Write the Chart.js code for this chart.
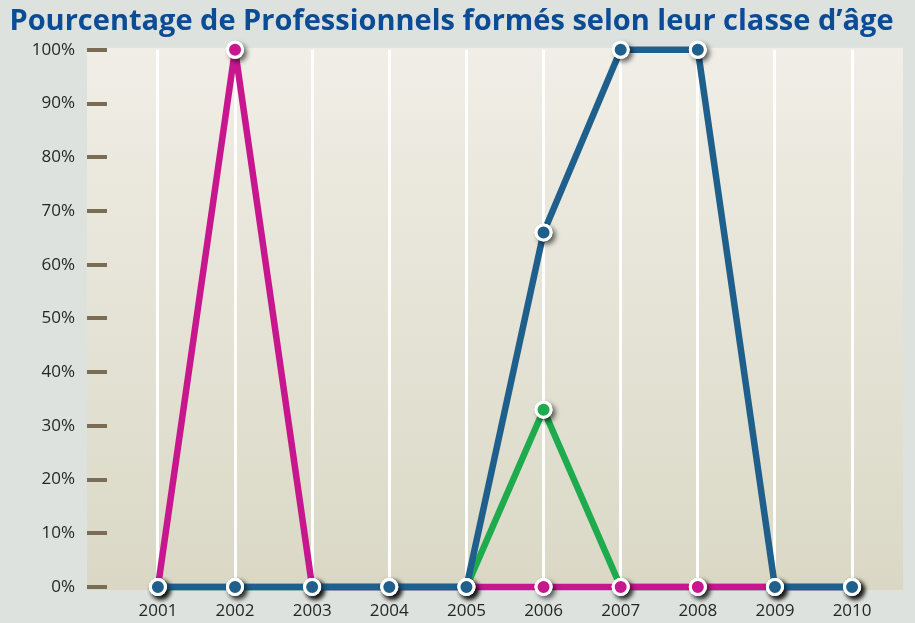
<!DOCTYPE html>
<html>
<head>
<meta charset="utf-8">
<script src="https://cdn.jsdelivr.net/npm/chart.js@4"></script>
<style>
  html, body { margin: 0; padding: 0; background: #dde2df; }
  #wrap { width: 915px; height: 623px; }
</style>
</head>
<body>
<div id="wrap"><canvas id="chart" width="915" height="623"></canvas></div>
<script>
// données
const years = [2001, 2002, 2003, 2004, 2005, 2006, 2007, 2008, 2009, 2010];
const bleu    = [0, 0, 0, 0, 0, 66, 100, 100, 0, 0];
const magenta = [0, 100, 0, 0, 0, 0, 0, 0, 0, 0];
const vert    = [0, 0, 0, 0, 0, 33, 0, 0, 0, 0];
const yTicks  = [0, 10, 20, 30, 40, 50, 60, 70, 80, 90, 100];

const toXY = arr => years.map((x, i) => ({ x, y: arr[i] }));

function serie(data, color){
  return {
    data: toXY(data),
    borderColor: color,
    backgroundColor: color,
    borderWidth: 6.5,
    borderJoinStyle: "round",
    pointRadius: 7.5,
    pointBorderWidth: 3,
    pointBorderColor: "#ffffff",
    pointBackgroundColor: color,
    tension: 0,
    clip: false
  };
}

// fond du graphique (dégradé) + ombre des points
const decor = {
  id: "decor",
  beforeDraw(chart){
    const { ctx, chartArea: a } = chart;
    const g = ctx.createLinearGradient(0, a.top, 0, a.bottom);
    g.addColorStop(0, "#f0eee6");
    g.addColorStop(1, "#dad8c5");
    ctx.save();
    ctx.fillStyle = g;
    ctx.fillRect(a.left - 20, a.top - 2, a.right - a.left + 20, a.bottom - a.top + 5);
    ctx.restore();
  },
  afterDatasetDraw(chart, args){
    const { ctx } = chart;
    const pts = args.meta.data;
    // ombre portée sous chaque point, puis on redessine le point par-dessus
    ctx.save();
    ctx.shadowColor = "rgba(0,0,0,0.6)";
    ctx.shadowBlur = 5;
    ctx.shadowOffsetX = 3;
    ctx.shadowOffsetY = 3;
    ctx.fillStyle = "#ffffff";
    pts.forEach(p => {
      ctx.beginPath();
      ctx.arc(p.x, p.y, 9, 0, Math.PI * 2);
      ctx.fill();
    });
    ctx.restore();
    pts.forEach(p => p.draw(ctx));
  }
};

new Chart(document.getElementById("chart"), {
  type: "line",
  data: {
    datasets: [
      serie(bleu, "#1f5f8c"),
      serie(magenta, "#c8168e"),
      serie(vert, "#1eab4e")
    ]
  },
  options: {
    responsive: false,
    animation: false,
    layout: { padding: { left: 0, right: 12, top: 0, bottom: 0 } },
    plugins: {
      legend: { display: false },
      tooltip: { enabled: false },
      title: {
        display: true,
        text: "Pourcentage de Professionnels formés selon leur classe d’âge",
        color: "#0b4c94",
        font: { family: "Open Sans", size: 29, weight: "bold" },
        padding: { top: 4, bottom: 11 }
      }
    },
    scales: {
      x: {
        type: "linear",
        min: 2000.34,
        max: 2010.66,
        afterBuildTicks: s => { s.ticks = years.map(v => ({ value: v })); },
        afterFit: s => { s.height = 36; },
        border: { display: false },
        grid: { color: "#ffffff", lineWidth: 3, drawTicks: false },
        ticks: {
          padding: 14,
          color: "#262626",
          font: { family: "Open Sans", size: 17 },
          callback: v => String(v)
        }
      },
      y: {
        min: 0,
        max: 100,
        afterBuildTicks: s => { s.ticks = yTicks.map(v => ({ value: v })); },
        afterFit: s => { s.width = 107; },
        border: { display: false },
        grid: { drawOnChartArea: false, color: "#7a6d55", lineWidth: 4, tickLength: 20 },
        ticks: {
          padding: 12,
          color: "#262626",
          font: { family: "Open Sans", size: 17 },
          callback: v => v + "%"
        }
      }
    }
  },
  plugins: [decor]
});
</script>
</body>
</html>
